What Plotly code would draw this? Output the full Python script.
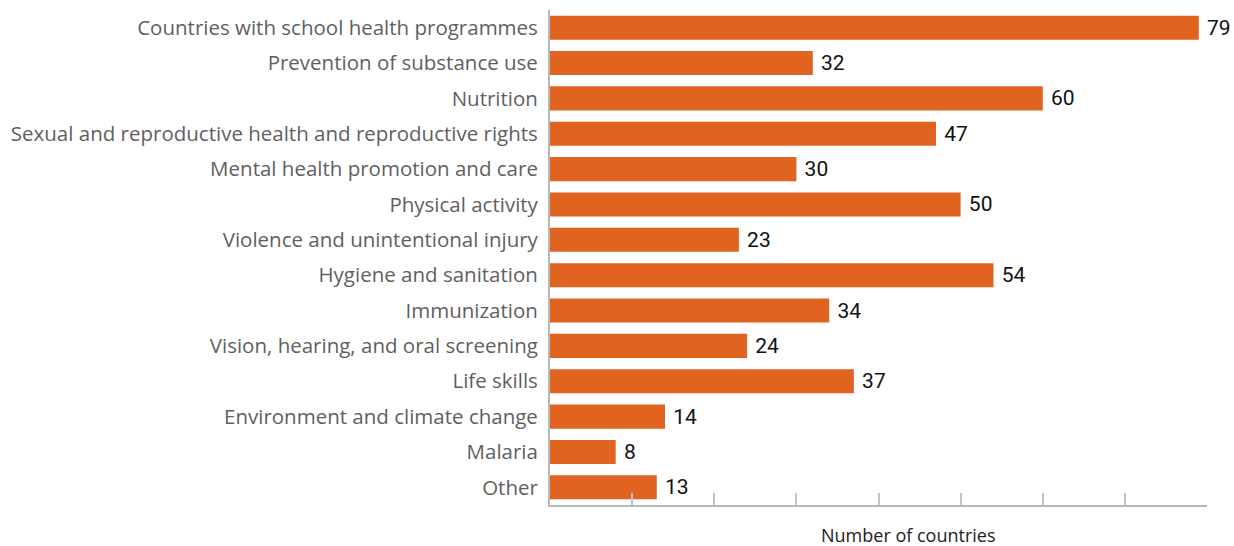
import plotly.graph_objects as go

categories = [
    "Countries with school health programmes",
    "Prevention of substance use",
    "Nutrition",
    "Sexual and reproductive health and reproductive rights",
    "Mental health promotion and care",
    "Physical activity",
    "Violence and unintentional injury",
    "Hygiene and sanitation",
    "Immunization",
    "Vision, hearing, and oral screening",
    "Life skills",
    "Environment and climate change",
    "Malaria",
    "Other",
]
values = [79, 32, 60, 47, 30, 50, 23, 54, 34, 24, 37, 14, 8, 13]
axis_title = "Number of countries"

fig = go.Figure()
fig.add_trace(go.Bar(
    y=categories,
    x=values,
    orientation="h",
    marker=dict(color="#E06320", line=dict(width=0)),
    width=0.68,
    texttemplate=" %{x}",
    textposition="outside",
    textfont=dict(family="Roboto, sans-serif", size=21, color="#111111"),
    cliponaxis=False,
    hoverinfo="skip",
))

fig.update_layout(
    width=1234,
    height=546,
    margin=dict(l=550, r=27, t=10, b=41),
    plot_bgcolor="white",
    paper_bgcolor="white",
    showlegend=False,
)
fig.update_xaxes(
    range=[0, 80],
    dtick=10,
    tick0=0,
    showgrid=False,
    zeroline=False,
    showline=True,
    linecolor="#b8b8b8",
    linewidth=2,
    ticks="inside",
    ticklen=12,
    tickwidth=2,
    tickcolor="#c4c4c4",
    showticklabels=False,
    automargin=False,
)
fig.update_yaxes(
    autorange="reversed",
    showgrid=False,
    zeroline=False,
    showline=True,
    linecolor="#b8b8b8",
    linewidth=2,
    ticks="",
    ticklabelstandoff=6,
    automargin=False,
    tickfont=dict(family="Open Sans, sans-serif", size=20.5, color="#5f5f5f"),
)
fig.add_annotation(
    text=axis_title,
    xref="paper", yref="paper",
    x=0.545, y=0,
    yshift=-30,
    showarrow=False,
    borderpad=0,
    xanchor="center", yanchor="middle",
    font=dict(family="Open Sans, sans-serif", size=18, color="#222222"),
)

fig.write_html(
    "out.html",
    config={"displayModeBar": False, "staticPlot": True},
    post_script="document.body.style.margin='0';document.body.style.overflow='hidden';",
)
